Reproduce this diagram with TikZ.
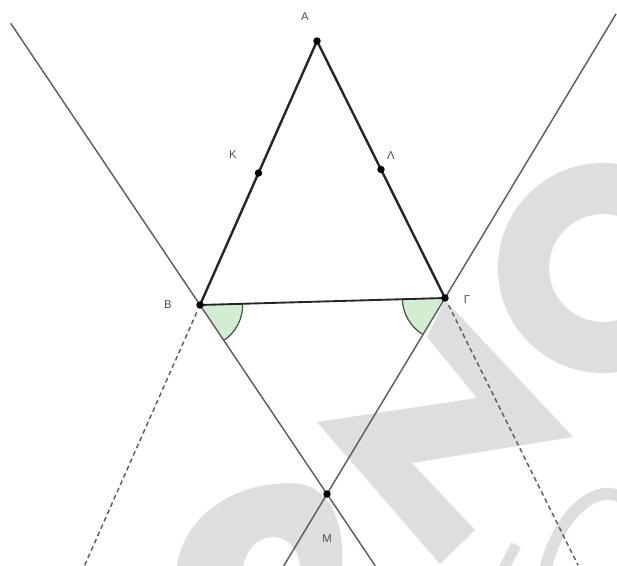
\documentclass[tikz,border=0pt]{standalone}
\usepackage{fontspec}
\setmainfont{Liberation Sans}
\usetikzlibrary{calc,angles}

\definecolor{wmgray}{RGB}{222,222,222}
\definecolor{linegray}{RGB}{95,95,95}
\definecolor{sidegray}{RGB}{38,38,38}
\definecolor{anglefill}{RGB}{210,237,210}
\definecolor{angleedge}{RGB}{60,85,60}
\definecolor{lblgray}{RGB}{80,80,80}

\begin{document}
\begin{tikzpicture}[x=0.75pt, y=-0.75pt,
    side/.style={sidegray, line width=1.8pt},
    base/.style={sidegray, line width=1.4pt},
    aux/.style={linegray, line width=1.1pt},
    ext/.style={linegray, line width=1.1pt, dash pattern=on 3.5pt off 2.5pt, shorten <=6pt},
    ang/.style={draw=angleedge, fill=anglefill, line width=0.9pt, angle radius=32pt},
    lbl/.style={text=lblgray, font=\fontsize{8.5}{9}\selectfont, inner sep=0pt}]
    \useasboundingbox (0,0) rectangle (617,566);

    % WATERMARK
    \begin{scope}
        \clip (0,0) rectangle (617,566);
        \fill[wmgray, even odd rule] (603,268) circle (78.75pt) (603,268) circle (40.5pt);
        \fill[wmgray] (445,300) -- (573,437) -- (412,463) -- (475,530) -- (440,564)
            -- (317,422) -- (477,398) -- (427,337) -- cycle;
        \fill[wmgray] (177,566) .. controls (185,510) and (245,478) .. (300,484)
            .. controls (335,490) and (344,530) .. (342,566) -- (300,566)
            .. controls (298,546) and (286,537) .. (272,537)
            .. controls (258,537) and (246,550) .. (243,566) -- cycle;
        \draw[wmgray, line width=9pt] (545,570) .. controls (560,510) and (600,480) .. (625,500);
        \draw[wmgray, line width=8pt] (503,570) -- (516,545);
    \end{scope}

    % POINTS
    \coordinate (A) at (317,41);
    \coordinate (B) at (200,305);
    \coordinate (G) at (445,298);
    \coordinate (M) at (327,494);
    \coordinate (K) at ($(A)!0.5!(B)$);
    \coordinate (L) at ($(A)!0.5!(G)$);

    % free ends of the lines
    \coordinate (bTop) at ($(M)!2.49!(B)$);
    \coordinate (bBot) at ($(B)!1.38!(M)$);
    \coordinate (gTop) at ($(M)!2.45!(G)$);
    \coordinate (gBot) at ($(G)!1.37!(M)$);
    \coordinate (abEnd) at ($(A)!1.99!(B)$);
    \coordinate (agEnd) at ($(A)!2.04!(G)$);

    % ANGLES
    \pic[ang] {angle = M--B--G};
    \pic[ang] {angle = B--G--M};

    % LINES
    \draw[aux] (bTop) -- (B) -- (M) -- (bBot);
    \draw[aux] (gTop) -- (G) -- (M) -- (gBot);
    \draw[ext] (B) -- (abEnd);
    \draw[ext] (G) -- (agEnd);
    \draw[base] (B) -- (G);
    \draw[side] (A) -- (B);
    \draw[side] (A) -- (G);

    \foreach \p in {A,B,G,M,K,L}
        \fill (\p) circle (2.8pt);

    % LABELS
    \node[lbl] (lA) at (305,17) {Α};
    \node[lbl] (lK) at (233,155) {Κ};
    \node[lbl] (lL) at (391,156) {Λ};
    \node[lbl] (lB) at (168,305) {Β};
    \node[lbl] (lG) at (467,300) {Γ};
    \node[lbl] (lM) at (327,539) {Μ};
\end{tikzpicture}
\end{document}
